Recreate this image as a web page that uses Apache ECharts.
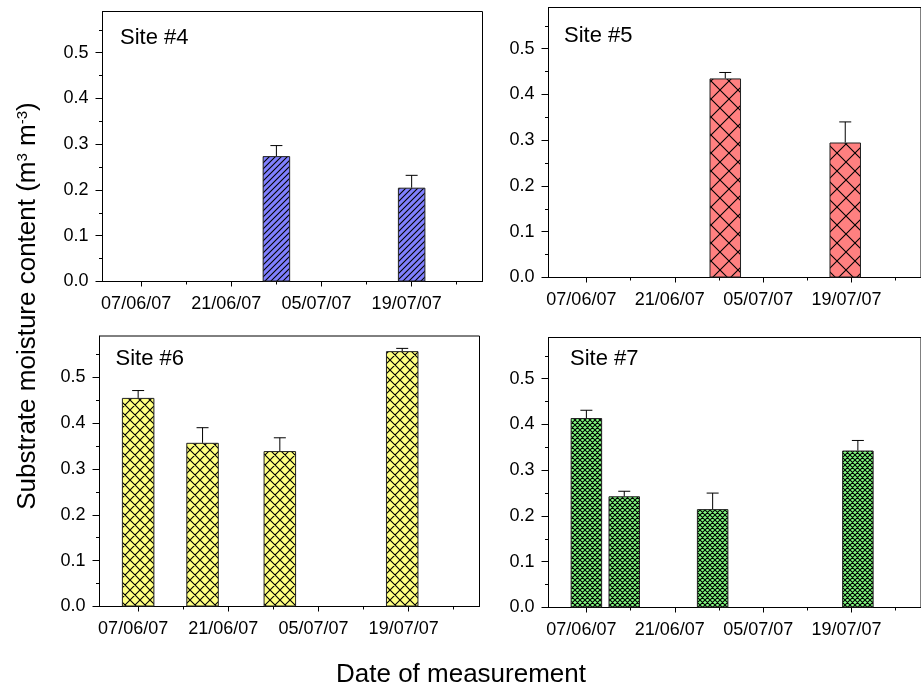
<!DOCTYPE html>
<html>
<head>
<meta charset="utf-8">
<script src="https://cdn.jsdelivr.net/npm/echarts@6/dist/echarts.min.js"></script>
<style>
html,body{margin:0;padding:0;background:#fff;}
#chart{width:921px;height:690px;}
</style>
</head>
<body>
<div id="chart"></div>
<script>
// ---------------- data ----------------
const dateTickLabels = ['07/06/07', '21/06/07', '05/07/07', '19/07/07'];
const dateMinorTicks = ['14/06/07', '28/06/07', '12/07/07', '26/07/07'];
const dateAxisMin = '01/06/07';
const dateAxisMax = '30/07/07';
const yTickValues = [0, 0.1, 0.2, 0.3, 0.4, 0.5];
const yMinorTicks = [0.05, 0.15, 0.25, 0.35, 0.45, 0.55];
const yMax = 0.59;

const siteNames = ['Site #4', 'Site #5', 'Site #6', 'Site #7'];

const site4Dates = ['28/06/07', '19/07/07'];
const site4Mean  = [0.274, 0.205];
const site4Err   = [0.023, 0.027];

const site5Dates = ['29/06/07', '18/07/07'];
const site5Mean  = [0.435, 0.295];
const site5Err   = [0.013, 0.045];

const site6Dates = ['07/06/07', '17/06/07', '29/06/07', '18/07/07'];
const site6Mean  = [0.455, 0.357, 0.339, 0.557];
const site6Err   = [0.016, 0.033, 0.029, 0.006];

const site7Dates = ['07/06/07', '13/06/07', '27/06/07', '20/07/07'];
const site7Mean  = [0.414, 0.243, 0.215, 0.343];
const site7Err   = [0.017, 0.011, 0.035, 0.022];

const yAxisTitle = 'Substrate moisture content (m{sup|3} m{sup|-3})';
const xAxisTitle = 'Date of measurement';

// ---------------- helpers ----------------
const DAY0 = Date.UTC(2007, 4, 31);
function day(s) {
  const p = s.split('/').map(Number);
  return Math.round((Date.UTC(2000 + p[2], p[1] - 1, p[0]) - DAY0) / 86400000);
}
const labelByDay = {};
dateTickLabels.forEach(s => { labelByDay[day(s)] = s; });

function makePattern(bg, size, mode, lw) {
  const c = document.createElement('canvas');
  c.width = size; c.height = size;
  const ctx = c.getContext('2d');
  ctx.fillStyle = bg; ctx.fillRect(0, 0, size, size);
  ctx.strokeStyle = '#000'; ctx.lineWidth = lw;
  ctx.beginPath();
  for (let k = 0; k <= 2; k++) {
    ctx.moveTo(-size, k * size + size);
    ctx.lineTo(k * size + size, -size);
  }
  if (mode === 'cross') {
    for (let k = -1; k <= 1; k++) {
      ctx.moveTo(k * size - size, -size);
      ctx.lineTo(k * size + 2 * size, 2 * size);
    }
  }
  ctx.stroke();
  return { image: c, repeat: 'repeat' };
}

const FONT = 'Liberation Sans, Arial, Helvetica, sans-serif';

const panels = [
  { grid: { left: 102.5, top: 11.5, width: 380, height: 270 },
    dates: site4Dates, mean: site4Mean, err: site4Err, barWidth: 27.5,
    fill: makePattern('#8080ff', 6, 'single', 1.1), label: [120, 37.5] },
  { grid: { left: 548.5, top: 7.5, width: 380, height: 270 },
    dates: site5Dates, mean: site5Mean, err: site5Err, barWidth: 31.5,
    fill: makePattern('#ff8080', 18, 'cross', 1.1), label: [564, 36] },
  { grid: { left: 99.5, top: 336, width: 380, height: 270.5 },
    dates: site6Dates, mean: site6Mean, err: site6Err, barWidth: 32.5,
    fill: makePattern('#ffff80', 10, 'cross', 1.1), label: [115.5, 359] },
  { grid: { left: 548.5, top: 337.5, width: 380, height: 270 },
    dates: site7Dates, mean: site7Mean, err: site7Err, barWidth: 31.5,
    fill: makePattern('#80ff80', 5, 'cross', 1.1), label: [570, 359] }
];

const grids = [], xAxes = [], yAxes = [], series = [], graphics = [];
const xMin = day(dateAxisMin), xMax = day(dateAxisMax);

panels.forEach((p, i) => {
  grids.push(Object.assign({ show: true, borderColor: '#000', borderWidth: 1, backgroundColor: 'transparent' }, p.grid));
  xAxes.push({
    gridIndex: i, type: 'value', position: 'bottom', min: xMin, max: xMax,
    axisLine: { show: true, lineStyle: { color: '#000', width: 1 } },
    axisTick: { show: true, length: 5, lineStyle: { color: '#000', width: 1 },
                customValues: dateTickLabels.map(day) },
    axisLabel: { show: true, customValues: dateTickLabels.map(day),
                 formatter: v => labelByDay[v] || '', color: '#000',
                 fontFamily: FONT, fontSize: 18, margin: 14, padding: [0, 10, 0, 0] },
    splitLine: { show: false }
  });
  xAxes.push({
    gridIndex: i, type: 'value', position: 'bottom', min: xMin, max: xMax,
    axisLine: { show: false },
    axisTick: { show: true, length: 3, lineStyle: { color: '#000', width: 1 },
                customValues: dateMinorTicks.map(day) },
    axisLabel: { show: false },
    splitLine: { show: false }
  });
  yAxes.push({
    gridIndex: i, type: 'value', position: 'left', min: 0, max: yMax,
    axisLine: { show: true, lineStyle: { color: '#000', width: 1 } },
    axisTick: { show: true, length: 7, lineStyle: { color: '#000', width: 1 },
                customValues: yTickValues },
    axisLabel: { show: true, customValues: yTickValues, formatter: v => v.toFixed(1),
                 color: '#000', fontFamily: FONT, fontSize: 18, margin: 14 },
    splitLine: { show: false }
  });
  yAxes.push({
    gridIndex: i, type: 'value', position: 'left', min: 0, max: yMax,
    axisLine: { show: false },
    axisTick: { show: true, length: 3.5, lineStyle: { color: '#000', width: 1 },
                customValues: yMinorTicks },
    axisLabel: { show: false },
    splitLine: { show: false }
  });

  const data = p.dates.map((d, j) => [day(d), p.mean[j], p.err[j]]);
  series.push({
    type: 'bar', xAxisIndex: 2 * i, yAxisIndex: 2 * i, barWidth: p.barWidth,
    data: data.map(r => [r[0], r[1]]), silent: true, animation: false,
    itemStyle: { color: p.fill, borderColor: '#222', borderWidth: 1 }, z: 2
  });
  series.push({
    type: 'custom', xAxisIndex: 2 * i, yAxisIndex: 2 * i, silent: true, animation: false, z: 3,
    data: data,
    renderItem: function (params, api) {
      const x = api.value(0), m = api.value(1), e = api.value(2);
      const base = api.coord([x, m]);
      const top = api.coord([x, m + e]);
      const half = 6;
      return {
        type: 'group',
        children: [
          { type: 'line', shape: { x1: base[0], y1: base[1], x2: top[0], y2: top[1] },
            style: { stroke: '#000', lineWidth: 1 } },
          { type: 'line', shape: { x1: top[0] - half, y1: top[1], x2: top[0] + half, y2: top[1] },
            style: { stroke: '#000', lineWidth: 1 } }
        ]
      };
    }
  });

  graphics.push({
    type: 'text', x: p.label[0], y: p.label[1], silent: true,
    style: { text: siteNames[i], fill: '#000', font: '22px ' + FONT,
             align: 'left', verticalAlign: 'middle' }
  });
});

graphics.push({
  type: 'text', x: 461, y: 675, silent: true,
  style: { text: xAxisTitle, fill: '#000', fontFamily: FONT, fontSize: 26,
           align: 'center', verticalAlign: 'middle' }
});
graphics.push({
  type: 'text', x: 28, y: 306, rotation: Math.PI / 2, silent: true,
  style: { text: yAxisTitle, fill: '#000', fontFamily: FONT, fontSize: 26,
           align: 'center', verticalAlign: 'middle',
           rich: { sup: { fontFamily: FONT, fontSize: 15, verticalAlign: 'top', fill: '#000' } } }
});

const chart = echarts.init(document.getElementById('chart'), null, { renderer: 'canvas' });
chart.setOption({
  animation: false,
  backgroundColor: '#fff',
  grid: grids,
  xAxis: xAxes,
  yAxis: yAxes,
  series: series,
  graphic: graphics
});
</script>
</body>
</html>
